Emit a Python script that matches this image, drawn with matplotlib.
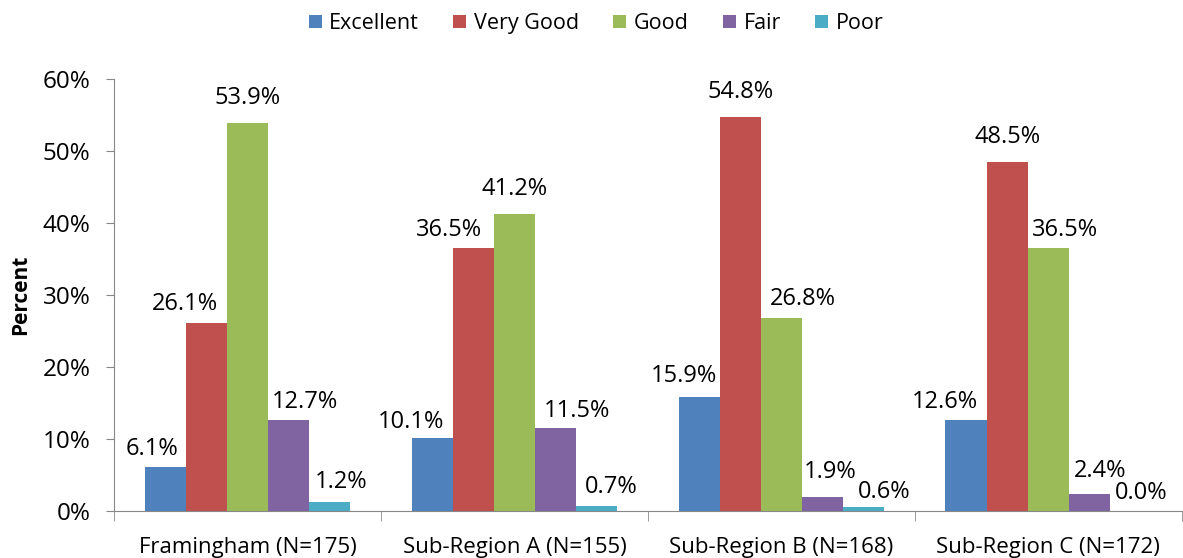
import matplotlib.pyplot as plt
import numpy as np

plt.rcParams['font.family'] = ['Open Sans', 'DejaVu Sans']

regions = ['Framingham (N=175)', 'Sub-Region A (N=155)', 'Sub-Region B (N=168)', 'Sub-Region C (N=172)']
ratings = ['Excellent', 'Very Good', 'Good', 'Fair', 'Poor']
excellent = [6.1, 10.1, 15.9, 12.6]
very_good = [26.1, 36.5, 54.8, 48.5]
good = [53.9, 41.2, 26.8, 36.5]
fair = [12.7, 11.5, 1.9, 2.4]
poor = [1.2, 0.7, 0.6, 0.0]
colors = ['#4F81BD', '#C0504D', '#9BBB59', '#8064A2', '#4BACC6']

series = [excellent, very_good, good, fair, poor]

# data label nudges in pixels (dx, gap above bar), as placed in the original
label_dx = [[-13, -21, -15, -21],
            [-21, -24, 0, 0],
            [0, 0, 22, 17],
            [16, 21, 8, 11],
            [11, 15, 21, 11]]
label_gap = [[12, 10, 15, 12],
             [13, 12, 19, 19],
             [19, 19, 13, 12],
             [12, 11, 19, 17],
             [14, 13, 9, 12]]

fig = plt.figure(figsize=(11.83, 5.58), dpi=100)
ax = fig.add_axes([0.0964, 0.0842, 0.9025, 0.774])

x = np.arange(len(regions))
w = 0.154
px = 72 / fig.dpi
for i, (vals, name, c) in enumerate(zip(series, ratings, colors)):
    pos = x + (i - 2) * w
    ax.bar(pos, vals, width=w, color=c, label=name)
    for j, (p, v) in enumerate(zip(pos, vals)):
        ax.annotate(f'{v:.1f}%', (p, v), xytext=(label_dx[i][j] * px, label_gap[i][j] * px),
                    textcoords='offset points', ha='center', va='baseline', fontsize=17)

ax.set_xlim(-0.5, len(regions) - 0.5)
ax.set_ylim(0, 60)
ax.set_yticks(range(0, 61, 10))
ax.set_yticklabels([f'{t}%' for t in range(0, 61, 10)], fontsize=17.5)
ax.set_xticks(x)
ax.set_xticklabels(regions, fontsize=16)
ax.set_xticks(np.arange(-0.5, len(regions)), minor=True)
ax.tick_params(axis='x', which='major', length=0, pad=19)
ax.tick_params(axis='x', which='minor', length=7, color='#888888', direction='out')
ax.tick_params(axis='y', length=6, color='#888888', direction='out', pad=11)
ax.set_ylabel('Percent', fontsize=15, fontweight='bold', labelpad=8)

for s in ['top', 'right']:
    ax.spines[s].set_visible(False)
for s in ['left', 'bottom']:
    ax.spines[s].set_color('#888888')

fig.legend(*ax.get_legend_handles_labels(), loc='center', bbox_to_anchor=(0.504, 0.958), ncol=5,
           frameon=False, fontsize=15.5, handlelength=0.6, handleheight=0.6, handletextpad=0.35,
           columnspacing=1.6)

fig.savefig('out.png', dpi=100)
